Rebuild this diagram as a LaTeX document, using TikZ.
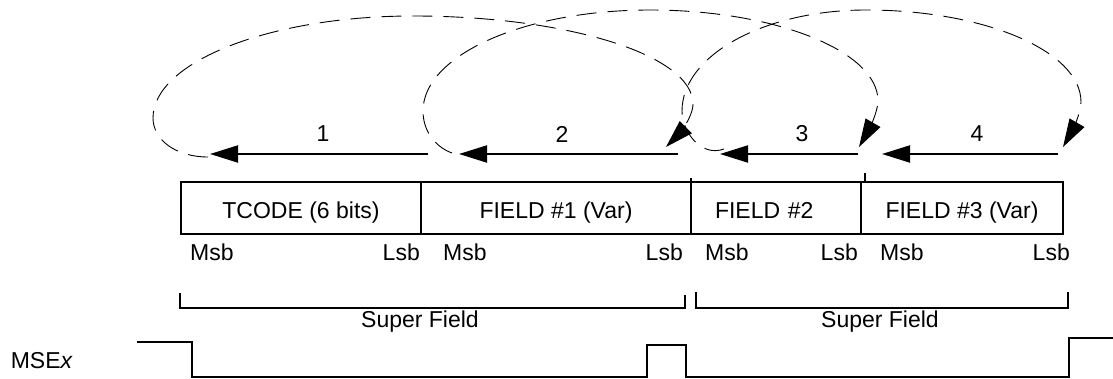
\documentclass[tikz,border=0pt]{standalone}
\usepackage{fontspec}
\setmainfont{Liberation Sans}
\usetikzlibrary{arrows.meta, positioning}
\tikzstyle{seqarrow}=[-{Triangle[length=28pt,width=17pt]}, line width=2pt]

\begin{document}
\begin{tikzpicture}[x=1pt, y=-1pt,
  txt/.style={font=\fontsize{23}{27}\selectfont, inner sep=0pt},
  field/.style={txt, rectangle, draw, line width=1.8pt,
                minimum height=52pt, inner sep=0pt, outer sep=0pt,
                text height=22pt, text depth=0pt},
  hop/.style={line width=0.9pt, dash pattern=on 20pt off 11pt,
              -{Triangle[length=28pt,width=17pt]}},
  bracket/.style={line width=2pt},
  signal/.style={line width=2.3pt}
]
\useasboundingbox (0,0) rectangle (1113,379);

% Packet fields
\node[field, minimum width=240pt, anchor=north west] (tcode) at (181,182) {TCODE (6 bits)};
\node[field, minimum width=270pt, right=0pt of tcode] (fld1) {FIELD \#1 (Var)};
\node[field, minimum width=170pt, text width=122pt, inner xsep=24pt,
      align=left, right=0pt of fld1] (fld2) {FIELD \#2};
\node[field, minimum width=202pt, right=0pt of fld2] (fld3) {FIELD \#3 (Var)};
\draw[line width=1.5pt] (fld2.north west) -- ++(0,-4);
\draw[line width=1.5pt] ([xshift=4pt]fld3.north west) -- ++(0,-9);

% Bit order labels
\node[txt, anchor=west] (msb0) at (190,252.5) {Msb};
\node[txt, anchor=east] (lsb0) at (420,252.5) {Lsb};
\node[txt, anchor=west] (msb1) at (443,252.5) {Msb};
\node[txt, anchor=east] (lsb1) at (683,252.5) {Lsb};
\node[txt, anchor=west] (msb2) at (705,252.5) {Msb};
\node[txt, anchor=east] (lsb2) at (858,252.5) {Lsb};
\node[txt, anchor=west] (msb3) at (880,252.5) {Msb};
\node[txt, anchor=east] (lsb3) at (1070,252.5) {Lsb};

% Transmission order
\coordinate (h1) at (210,154); \coordinate (t1) at (428,154);
\coordinate (h2) at (459,154); \coordinate (t2) at (678,154);
\coordinate (h3) at (720,154); \coordinate (t3) at (858,154);
\coordinate (h4) at (882,154); \coordinate (t4) at (1058,154);
\draw[seqarrow] (t1) -- (h1);
\draw[seqarrow] (t2) -- (h2);
\draw[seqarrow] (t3) -- (h3);
\draw[seqarrow] (t4) -- (h4);
\node[txt] (n1) at (323,134) {1};
\node[txt] (n2) at (562,134) {2};
\node[txt] (n3) at (802,134) {3};
\node[txt] (n4) at (977,134) {4};

% Hops back to the next field
\draw[hop] (208,157) to[out=180,in=270,out distance=32,in distance=22] (153,118)
  to[out=90,in=180,out distance=56,in distance=143] (413,16)
  to[out=0,in=90,out distance=154,in distance=49] (693,104)
  to[out=270,in=45,out distance=14,in distance=14] (666,147);
\draw[hop] (452,153) to[out=160,in=270,out distance=18,in distance=20] (423,111)
  to[out=90,in=180,out distance=56,in distance=125] (650,10)
  to[out=0,in=90,out distance=125,in distance=50] (878,101)
  to[out=270,in=60,out distance=12,in distance=14] (859,147);
\draw[hop] (724,149) to[out=200,in=270,out distance=25,in distance=20] (682,111)
  to[out=90,in=180,out distance=56,in distance=101] (866,10)
  to[out=0,in=90,out distance=118,in distance=51] (1081,102)
  to[out=270,in=60,out distance=12,in distance=14] (1063,147);

% Super fields
\draw[bracket] (180,293) |- (685,308) -- (685,295);
\draw[bracket] (696,292) |- (1068,308) -- (1068,292);
\node[txt] (sf1) at (420,322) {Super Field};
\node[txt] (sf2) at (880,322) {Super Field};

% MSEx signal
\node[txt, anchor=east] (msex) at (73,361) {MSE\textit{x}};
\draw[signal] (137,342) -| (192,377) -| (647,345) -| (686,377) -| (1069,338) -- (1113,338);
\end{tikzpicture}
\end{document}
